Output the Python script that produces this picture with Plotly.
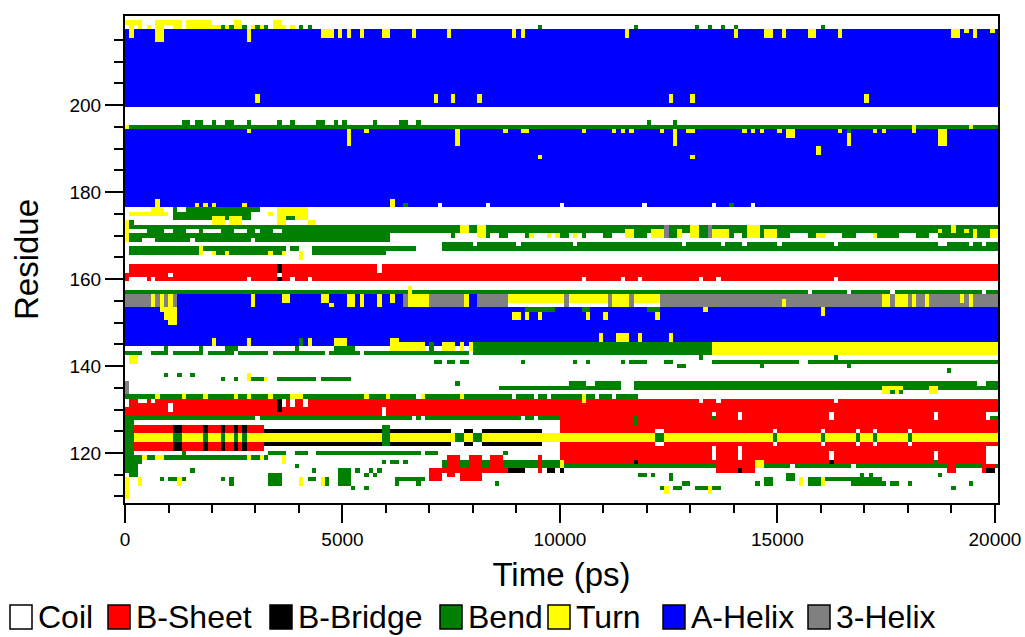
import numpy as np
import plotly.graph_objects as go

# DSSP secondary-structure classes and their colours
states = ["Coil", "B-Sheet", "B-Bridge", "Bend", "Turn", "A-Helix", "3-Helix"]
state_colors = ["#ffffff", "#ff0000", "#000000", "#008000", "#ffff00", "#0000ff", "#808080"]

# sampling grid: one frame every 100 ps, residues 109-220
t_step = 100
times = list(range(0, 20001, t_step))
residues = list(range(109, 221))
time_ticks = [0, 5000, 10000, 15000, 20000]
residue_ticks = [120, 140, 160, 180, 200]

# blocks: (state, t_from, t_to, first_residue, last_residue); later blocks overwrite earlier ones
base_blocks = [
    ("A-Helix", 0, 20100, 200, 217),
    ("A-Helix", 0, 20100, 177, 194),
    ("Bend", 100, 20100, 195, 195),
    ("Turn", 0, 100, 195, 195),
    ("A-Helix", 0, 20100, 145, 156),
    ("Bend", 0, 20100, 157, 157),
    ("B-Sheet", 0, 20100, 160, 163),
    ("B-Sheet", 0, 20100, 129, 132),
    ("Bend", 0, 11800, 133, 133),
    ("B-Sheet", 10000, 20100, 125, 128),
    ("B-Sheet", 10000, 20100, 118, 122),
    ("Turn", 200, 20100, 123, 124),
]

upper_blocks = [
    ("Turn", 0, 300, 219, 219), ("Turn", 100, 200, 216, 218), ("Turn", 300, 400, 218, 219),
    ("Turn", 500, 600, 218, 218), ("Turn", 700, 900, 215, 219), ("Turn", 900, 1100, 219, 219),
    ("Turn", 1100, 1300, 218, 219), ("Turn", 1400, 2000, 218, 219), ("Turn", 2000, 2400, 218, 218),
    ("Turn", 2500, 2700, 218, 219), ("Turn", 2800, 2900, 215, 217), ("Turn", 2900, 3000, 218, 218),
    ("Turn", 3100, 3200, 218, 218), ("Turn", 3400, 3600, 218, 219), ("Turn", 3600, 3700, 218, 218),
    ("Turn", 3800, 3900, 218, 218),
    ("Bend", 2200, 2300, 218, 218), ("Bend", 2400, 2500, 218, 218), ("Bend", 2700, 2800, 218, 218),
    ("Bend", 3000, 3100, 218, 218), ("Bend", 3200, 3300, 218, 218), ("Bend", 4000, 4100, 218, 218),
    ("Bend", 4200, 4300, 218, 218), ("Bend", 9500, 9600, 218, 218), ("Bend", 11700, 11800, 218, 218),
    ("Bend", 13100, 13200, 218, 218), ("Bend", 13400, 13500, 218, 218), ("Bend", 13700, 13800, 218, 218),
    ("Bend", 14000, 14100, 218, 218), ("Bend", 16000, 16100, 218, 218),
    ("Turn", 4500, 4800, 216, 217), ("Turn", 4900, 5000, 216, 217), ("Turn", 5100, 5200, 216, 217),
    ("Turn", 5400, 5500, 216, 217), ("Turn", 5900, 6100, 216, 217), ("Turn", 6600, 6700, 216, 217),
    ("Turn", 7400, 7500, 216, 217), ("Turn", 8900, 9000, 216, 217), ("Turn", 9100, 9200, 216, 217),
    ("Turn", 11500, 11600, 216, 217), ("Turn", 14000, 14100, 216, 217), ("Turn", 14700, 14900, 216, 217),
    ("Turn", 15100, 15200, 216, 217), ("Turn", 15700, 15900, 216, 217), ("Turn", 16400, 16500, 216, 217),
    ("Turn", 19000, 19200, 216, 217), ("Turn", 19500, 19600, 216, 217),
    ("Turn", 19300, 19400, 217, 217), ("Turn", 19900, 20000, 217, 217),
    ("Turn", 3000, 3100, 201, 202), ("Turn", 7100, 7200, 201, 202), ("Turn", 7500, 7600, 201, 202),
    ("Turn", 8100, 8200, 201, 202), ("Turn", 12500, 12600, 201, 202), ("Turn", 13000, 13100, 201, 202),
    ("Turn", 17000, 17100, 201, 202),
    ("Bend", 1300, 1500, 196, 196), ("Bend", 1600, 1800, 196, 196), ("Bend", 2000, 2100, 196, 196),
    ("Bend", 2300, 2500, 196, 196), ("Bend", 2800, 2900, 196, 196), ("Bend", 3500, 3600, 196, 196),
    ("Bend", 3800, 3900, 196, 196), ("Bend", 4400, 4600, 196, 196), ("Bend", 4800, 4900, 196, 196),
    ("Bend", 5000, 5100, 196, 196), ("Bend", 5700, 5800, 196, 196), ("Bend", 6300, 6500, 196, 196),
    ("Bend", 6700, 6800, 196, 196), ("Bend", 12000, 12100, 196, 196), ("Bend", 12600, 12700, 196, 196),
    ("Turn", 19400, 19500, 195, 195), ("Turn", 18100, 18200, 194, 195),
    ("Turn", 2800, 2900, 194, 194), ("Turn", 5100, 5200, 191, 194), ("Turn", 5500, 5600, 194, 194),
    ("Turn", 7600, 7700, 191, 194), ("Turn", 8700, 8800, 194, 194), ("Turn", 9100, 9300, 194, 194),
    ("Turn", 10500, 10600, 194, 194), ("Turn", 11200, 11300, 194, 194), ("Turn", 11400, 11500, 194, 194),
    ("Turn", 11600, 11700, 194, 194), ("Turn", 12300, 12400, 194, 194), ("Turn", 12600, 12700, 191, 194),
    ("Turn", 12900, 13100, 194, 194), ("Turn", 14200, 14300, 194, 194), ("Turn", 14400, 14500, 194, 194),
    ("Turn", 14600, 14700, 194, 194), ("Turn", 15000, 15100, 194, 194), ("Turn", 15200, 15400, 193, 194),
    ("Turn", 16400, 16500, 194, 194), ("Turn", 16600, 16700, 191, 193), ("Bend", 16600, 16700, 194, 194),
    ("Turn", 17200, 17300, 194, 194), ("Turn", 17400, 17500, 194, 194), ("Turn", 18700, 18900, 191, 194),
    ("Turn", 9500, 9600, 188, 188), ("Turn", 13000, 13100, 188, 188), ("Turn", 15900, 16000, 189, 190),
    ("Turn", 700, 800, 177, 178), ("Turn", 1600, 1700, 177, 177), ("Turn", 1800, 1900, 177, 177),
    ("Turn", 2000, 2100, 177, 177), ("Turn", 2700, 2800, 177, 177), ("Turn", 6100, 6200, 177, 178),
    ("Coil", 7200, 7300, 177, 177), ("Coil", 8300, 8400, 177, 177), ("Coil", 10000, 10100, 177, 177),
    ("Coil", 11900, 12000, 177, 177), ("Coil", 13500, 13600, 177, 177), ("Coil", 14400, 14500, 177, 177),
    ("Bend", 6400, 6500, 177, 177), ("Bend", 13900, 14000, 177, 177),
]

middle_blocks = [
    # residues 169-176, early frames
    ("Turn", 0, 100, 169, 173),
    ("Bend", 100, 4100, 169, 172),
    ("Coil", 100, 500, 171, 171), ("Coil", 900, 1100, 171, 171), ("Coil", 1400, 1700, 171, 171),
    ("Coil", 1800, 2200, 171, 171), ("Coil", 2500, 2800, 171, 171), ("Coil", 3000, 3100, 171, 171),
    ("Coil", 3400, 3600, 171, 171), ("Coil", 400, 700, 169, 169), ("Coil", 1500, 1600, 169, 169),
    ("Coil", 2900, 3000, 169, 169),
    ("Turn", 600, 900, 176, 176), ("Bend", 1100, 1200, 176, 176), ("Bend", 1400, 3100, 176, 176),
    ("Turn", 3500, 4200, 176, 176),
    ("Turn", 100, 1000, 175, 175), ("Bend", 1100, 2900, 175, 175), ("Turn", 3300, 3400, 175, 175),
    ("Turn", 3500, 4200, 175, 175),
    ("Bend", 1100, 2000, 174, 174), ("Turn", 2000, 2300, 174, 174), ("Bend", 2300, 2400, 174, 174),
    ("Turn", 2400, 2700, 174, 174), ("Bend", 2700, 2900, 174, 174), ("Turn", 3500, 3700, 174, 174),
    ("Bend", 3700, 3900, 174, 174), ("Turn", 3900, 4200, 174, 174),
    ("Turn", 2000, 2300, 173, 173), ("Turn", 2400, 2700, 173, 173), ("Turn", 3500, 3700, 173, 173),
    ("Turn", 4200, 4400, 173, 173), ("Bend", 100, 200, 173, 173),
    # residues 169-172, later frames
    ("Bend", 4100, 20100, 170, 172),
    ("Coil", 6100, 7500, 170, 170), ("Coil", 7600, 8200, 170, 170), ("Coil", 8400, 8600, 170, 170),
    ("Coil", 8800, 9200, 170, 170), ("Coil", 9400, 10000, 170, 170), ("Coil", 10200, 10500, 170, 170),
    ("Coil", 10600, 11000, 170, 170), ("Coil", 11200, 11700, 170, 170), ("Coil", 12000, 12500, 170, 170),
    ("Coil", 12800, 13000, 170, 170), ("Coil", 14000, 14200, 170, 170), ("Coil", 15300, 15700, 170, 170),
    ("Coil", 16000, 16500, 170, 170), ("Coil", 16800, 17200, 170, 170), ("Coil", 17800, 18200, 170, 170),
    ("Coil", 18500, 18700, 170, 170),
    ("Turn", 7700, 7900, 171, 172), ("Turn", 8100, 8300, 170, 172), ("Turn", 9300, 9400, 170, 170),
    ("Turn", 9700, 9800, 170, 170), ("Turn", 9900, 10000, 170, 170), ("Turn", 10300, 10400, 170, 170),
    ("Turn", 11500, 11700, 170, 171), ("Turn", 12100, 12400, 170, 171), ("3-Helix", 12400, 12500, 170, 172),
    ("Turn", 12700, 12800, 170, 171), ("Turn", 13000, 13200, 170, 172), ("3-Helix", 13400, 13500, 170, 172),
    ("Turn", 13500, 13900, 170, 171), ("Turn", 14300, 14600, 170, 172), ("Turn", 14700, 15000, 170, 171),
    ("Turn", 15900, 16100, 170, 170), ("Turn", 17200, 17300, 170, 170), ("Turn", 18700, 18800, 171, 171),
    ("Turn", 19000, 19100, 171, 172), ("Turn", 19300, 19400, 171, 171), ("Turn", 19500, 19600, 170, 171),
    ("Turn", 19900, 20100, 170, 171),
    ("Bend", 4100, 6100, 169, 169),
    # residues 166-168
    ("Bend", 100, 6700, 167, 167), ("Coil", 1700, 1800, 167, 167), ("Coil", 3700, 3800, 167, 167),
    ("Coil", 4000, 4300, 167, 167),
    ("Bend", 100, 1700, 166, 166), ("Bend", 2100, 3700, 166, 166), ("Bend", 4300, 6000, 166, 166),
    ("Turn", 1700, 1800, 166, 167), ("Turn", 2000, 2100, 166, 166), ("Turn", 2300, 2400, 166, 166),
    ("Turn", 3300, 3400, 166, 166), ("Turn", 3600, 3700, 166, 166), ("Turn", 4000, 4100, 165, 166),
    ("Bend", 7300, 20100, 167, 168),
    ("Coil", 8000, 8100, 168, 168), ("Coil", 9000, 9100, 168, 168), ("Coil", 10300, 10400, 168, 168),
    ("Coil", 12800, 12900, 168, 168), ("Coil", 13700, 13800, 168, 168), ("Coil", 14200, 14300, 168, 168),
    ("Coil", 15000, 15100, 168, 168), ("Coil", 16300, 16400, 168, 168), ("Coil", 18700, 18900, 168, 168),
    ("Coil", 19400, 19500, 168, 168), ("Coil", 19700, 19800, 168, 168),
    # sheet 160-163
    ("Coil", 0, 100, 162, 163), ("Coil", 100, 300, 160, 160), ("Coil", 300, 500, 160, 160),
    ("Coil", 600, 700, 160, 160), ("Coil", 1000, 1100, 161, 161), ("Coil", 2800, 2900, 160, 160),
    ("B-Bridge", 3500, 3600, 162, 163), ("Coil", 3500, 3600, 161, 161), ("B-Bridge", 3500, 3600, 160, 160),
    ("Coil", 3800, 3900, 160, 160), ("Coil", 4200, 4300, 160, 160), ("Coil", 5800, 5900, 162, 163),
    ("Coil", 10500, 10600, 160, 160), ("Coil", 11400, 11500, 160, 160), ("Coil", 11800, 11900, 160, 160),
    ("Coil", 13200, 13300, 160, 160), ("Coil", 13600, 13700, 160, 160), ("Coil", 16300, 16400, 160, 160),
    # bend line 157 gaps
    ("Coil", 15700, 15800, 157, 157), ("Coil", 16600, 16700, 157, 157), ("Coil", 17600, 17700, 157, 157),
    ("Coil", 19700, 19800, 157, 157), ("Turn", 6500, 6600, 157, 158),
    # residues 150-156: 3-helix / helix / turn mixture
    ("3-Helix", 0, 1200, 154, 156),
    ("Turn", 600, 700, 154, 156), ("Turn", 800, 900, 153, 156), ("Turn", 900, 1000, 151, 153),
    ("Turn", 1000, 1100, 150, 156), ("Turn", 1100, 1200, 150, 153),
    ("Turn", 2900, 3000, 154, 156), ("Turn", 3600, 3800, 155, 156), ("Turn", 4500, 4700, 155, 156),
    ("Turn", 4700, 4800, 154, 154), ("Turn", 5100, 5300, 154, 156), ("Turn", 5400, 5500, 154, 156),
    ("Turn", 5800, 5900, 154, 156), ("Turn", 6100, 6200, 155, 156),
    ("3-Helix", 6400, 6500, 154, 156), ("Turn", 6500, 7000, 154, 156), ("3-Helix", 7000, 7800, 154, 156),
    ("Turn", 7800, 7900, 154, 156), ("3-Helix", 8100, 8800, 154, 156),
    ("Turn", 8800, 10100, 155, 156), ("Coil", 8800, 10100, 154, 154), ("3-Helix", 10100, 10200, 154, 156),
    ("Turn", 10200, 11100, 155, 156), ("Coil", 10200, 11100, 154, 154), ("3-Helix", 11100, 11200, 154, 156),
    ("Turn", 11200, 11600, 154, 156), ("3-Helix", 11600, 11700, 154, 156),
    ("Turn", 11700, 12300, 155, 156), ("Coil", 11700, 12300, 154, 154),
    ("3-Helix", 12300, 20100, 154, 156),
    ("Turn", 15100, 15200, 154, 155), ("Turn", 17400, 17600, 154, 156), ("Turn", 17700, 18000, 154, 156),
    ("Turn", 18100, 18200, 154, 156), ("Turn", 18400, 18500, 154, 156), ("Turn", 19200, 19300, 155, 156),
    ("Turn", 19400, 19500, 154, 156),
    ("Bend", 9200, 9900, 153, 153), ("Bend", 10500, 10700, 153, 153), ("Bend", 12000, 12300, 153, 153),
    ("Turn", 8900, 9100, 151, 152), ("Turn", 9200, 9300, 151, 152), ("Turn", 9500, 9600, 151, 152),
    ("Turn", 10600, 10700, 151, 152), ("Turn", 11000, 11100, 151, 152), ("Turn", 12200, 12300, 151, 152),
    ("Turn", 13300, 13400, 153, 153), ("Turn", 16000, 16100, 152, 153),
    ("Turn", 10900, 11000, 146, 147), ("Turn", 11300, 11600, 146, 147), ("Turn", 11800, 11900, 146, 147),
    ("Turn", 12500, 12600, 146, 147),
]

lower_blocks = [
    # residues 141-146
    ("Turn", 2000, 2100, 145, 146), ("Turn", 2800, 2900, 145, 146), ("Turn", 4200, 4300, 145, 146),
    ("Turn", 4800, 5100, 145, 146), ("Turn", 6100, 6300, 145, 146), ("Bend", 4000, 4100, 145, 146),
    ("Coil", 0, 7900, 144, 144),
    ("Bend", 900, 1000, 144, 144), ("Bend", 1700, 1800, 144, 144), ("Bend", 2300, 2600, 144, 144),
    ("Bend", 3900, 4000, 144, 144), ("Bend", 4800, 5300, 144, 144),
    ("Bend", 0, 400, 143, 143), ("Bend", 600, 1000, 143, 143), ("Bend", 1100, 1800, 143, 143),
    ("Bend", 1900, 2500, 143, 143), ("Bend", 2600, 3300, 143, 143), ("Bend", 3400, 4600, 143, 143),
    ("Bend", 4700, 5400, 143, 143), ("Bend", 5500, 7900, 143, 143),
    ("Turn", 6100, 6900, 144, 145), ("Bend", 7000, 7100, 144, 145), ("Turn", 7300, 7600, 144, 145),
    ("Turn", 7700, 7800, 144, 145), ("Turn", 7900, 8000, 144, 145),
    ("Bend", 8000, 13500, 143, 145), ("Turn", 13500, 20100, 143, 145),
    ("Turn", 100, 300, 141, 142),
    ("Bend", 7100, 7300, 141, 141), ("Bend", 7400, 7600, 141, 141), ("Bend", 7700, 7900, 141, 141),
    ("Bend", 9100, 9200, 141, 141), ("Bend", 10300, 10400, 141, 141), ("Bend", 10600, 10700, 141, 141),
    ("Bend", 11400, 11500, 141, 141), ("Bend", 11600, 12000, 141, 141), ("Bend", 12400, 12600, 141, 141),
    ("Bend", 13500, 15500, 141, 141), ("Bend", 15700, 20100, 141, 141),
    ("Bend", 12700, 12900, 140, 140), ("Bend", 14600, 14700, 140, 140), ("Bend", 16600, 16700, 140, 140),
    ("Bend", 13200, 13300, 142, 142), ("Bend", 16300, 16400, 142, 142), ("Bend", 18900, 19000, 139, 139),
    # residues 133-138
    ("Bend", 900, 1000, 138, 138), ("Bend", 1200, 1300, 138, 138), ("Bend", 1500, 1600, 138, 138),
    ("Bend", 2200, 2300, 137, 137), ("Bend", 2500, 2600, 137, 137), ("Turn", 2800, 2900, 137, 138),
    ("Bend", 2900, 3200, 137, 137), ("Turn", 3200, 3300, 137, 137), ("Bend", 3500, 4400, 137, 137),
    ("Bend", 4500, 5200, 137, 137),
    ("Bend", 8600, 11400, 135, 135), ("Bend", 11700, 20100, 135, 136), ("Bend", 10200, 10600, 136, 136),
    ("Bend", 10800, 11400, 136, 136), ("Coil", 19600, 19800, 136, 136), ("Bend", 7600, 7700, 136, 136),
    ("Turn", 17400, 17900, 134, 135), ("Turn", 18500, 18700, 134, 135), ("Bend", 17600, 17700, 134, 134),
    ("Bend", 17800, 17900, 134, 134),
    ("3-Helix", 0, 100, 134, 136),
    ("Turn", 700, 800, 133, 133), ("Turn", 1300, 1400, 133, 133), ("Turn", 1800, 1900, 133, 133),
    ("Turn", 2500, 2600, 133, 133), ("Turn", 2800, 2900, 133, 133), ("Turn", 3300, 3400, 133, 133),
    ("Turn", 3800, 4100, 133, 133), ("Turn", 5500, 5600, 133, 133), ("Turn", 6000, 6100, 133, 133),
    ("Turn", 6800, 6900, 133, 133), ("Turn", 7700, 7800, 133, 133), ("Turn", 10500, 10600, 132, 133),
    ("Coil", 6700, 6800, 133, 133), ("Coil", 8900, 9000, 133, 133), ("Coil", 9400, 9500, 133, 133),
    ("Coil", 9700, 9800, 133, 133), ("Coil", 10800, 10900, 133, 133), ("Coil", 11200, 11300, 133, 133),
    # sheet 129-132 and the right-hand sheet block
    ("Coil", 0, 100, 131, 132), ("Coil", 300, 500, 132, 132), ("Coil", 600, 700, 132, 132),
    ("Coil", 1000, 1100, 130, 131), ("B-Bridge", 3500, 3600, 130, 132), ("Coil", 3600, 3700, 131, 132),
    ("Coil", 3800, 3900, 131, 132), ("Coil", 4100, 4200, 131, 132), ("Coil", 5900, 6000, 129, 130),
    ("Coil", 13200, 13300, 132, 132), ("Coil", 13600, 13700, 132, 132), ("Coil", 16300, 16400, 132, 132),
    ("Coil", 13500, 13600, 128, 129), ("Coil", 14100, 14200, 128, 129), ("Coil", 16200, 16300, 128, 129),
    ("Coil", 18600, 18700, 128, 129), ("Coil", 19800, 20100, 128, 129), ("Bend", 13500, 13600, 128, 128),
    ("Bend", 19900, 20100, 128, 128), ("Bend", 11700, 11800, 127, 128),
    ("Bend", 200, 3000, 128, 128), ("Bend", 3100, 6600, 128, 128), ("Bend", 6700, 6800, 128, 128),
    ("Bend", 6900, 9100, 128, 128), ("Bend", 9200, 9400, 128, 128), ("Bend", 9500, 10000, 128, 128),
    ("Bend", 0, 200, 120, 128),
    # early sheet ladder
    ("B-Sheet", 200, 3200, 125, 126), ("B-Sheet", 200, 3200, 121, 122),
    ("B-Bridge", 1100, 1300, 125, 126), ("Bend", 1100, 1300, 123, 124), ("B-Bridge", 1100, 1300, 121, 122),
    ("B-Bridge", 1800, 1900, 125, 126), ("Bend", 1800, 1900, 123, 124), ("B-Bridge", 1800, 1900, 121, 122),
    ("B-Bridge", 2200, 2300, 125, 126), ("Bend", 2200, 2300, 123, 124), ("B-Bridge", 2200, 2300, 121, 122),
    ("B-Bridge", 2500, 2600, 125, 126), ("Bend", 2500, 2600, 123, 124), ("B-Bridge", 2500, 2600, 121, 122),
    ("B-Bridge", 2700, 2800, 125, 126), ("Bend", 2700, 2800, 123, 124), ("B-Bridge", 2700, 2800, 121, 122),
    # bridged turn between 3.2 and 10 ns
    ("B-Bridge", 3200, 5900, 125, 125), ("B-Bridge", 6100, 7500, 125, 125), ("B-Bridge", 7800, 8000, 125, 125),
    ("B-Bridge", 8200, 9600, 125, 125),
    ("B-Bridge", 3200, 5900, 122, 122), ("B-Bridge", 6100, 7500, 122, 122), ("B-Bridge", 7800, 8000, 122, 122),
    ("B-Bridge", 8200, 9600, 122, 122),
    ("Bend", 5900, 6100, 122, 126), ("Bend", 7600, 7800, 123, 124), ("Bend", 8000, 8200, 123, 124),
    ("Bend", 12200, 12400, 123, 124), ("Coil", 12200, 12400, 125, 125), ("Coil", 12200, 12400, 122, 122),
    ("Bend", 14900, 15000, 123, 124), ("Coil", 14900, 15000, 125, 125), ("Coil", 14900, 15000, 122, 122),
    ("Bend", 16000, 16100, 123, 124), ("Coil", 16000, 16100, 125, 125), ("Coil", 16000, 16100, 122, 122),
    ("Bend", 16800, 16900, 123, 124), ("Coil", 16800, 16900, 125, 125), ("Coil", 16800, 16900, 122, 122),
    ("Bend", 17200, 17300, 123, 124), ("Coil", 17200, 17300, 125, 125), ("Coil", 17200, 17300, 122, 122),
    ("Bend", 18000, 18100, 123, 124), ("Coil", 18000, 18100, 125, 125), ("Coil", 18000, 18100, 122, 122),
    # right-hand lower sheet
    ("Coil", 13500, 13600, 119, 121), ("Coil", 14100, 14200, 119, 121), ("Coil", 16200, 16300, 119, 120),
    ("B-Bridge", 16200, 16300, 118, 118), ("Coil", 18600, 18700, 119, 120), ("Bend", 18600, 18700, 118, 118),
    ("Coil", 19800, 20100, 118, 121), ("B-Bridge", 11700, 11800, 118, 118),
    ("Bend", 10100, 20100, 117, 117), ("Coil", 15300, 15400, 117, 117), ("Coil", 16700, 16800, 117, 117),
    ("B-Sheet", 13600, 14500, 116, 117), ("Turn", 14500, 14700, 117, 118), ("B-Sheet", 18900, 19100, 116, 117),
    ("B-Sheet", 19700, 20000, 116, 117), ("B-Bridge", 14100, 14200, 116, 116), ("B-Bridge", 19800, 20000, 116, 116),
    ("Turn", 10000, 10100, 117, 118), ("B-Bridge", 10000, 10100, 116, 116),
    # residues 118-120, early frames
    ("Bend", 1300, 1400, 120, 120), ("Bend", 3300, 3700, 120, 120), ("Bend", 3900, 4200, 120, 120),
    ("Bend", 4400, 6800, 120, 120), ("Bend", 6900, 7200, 120, 120), ("Bend", 8700, 8800, 120, 120),
    ("Bend", 0, 400, 118, 119), ("Bend", 400, 3300, 119, 119), ("Turn", 400, 500, 119, 119),
    ("Turn", 700, 900, 119, 119), ("Turn", 2800, 2900, 119, 119), ("Turn", 3100, 3200, 119, 119),
    ("Turn", 3600, 3700, 118, 119), ("Bend", 0, 300, 116, 117), ("Bend", 100, 300, 115, 115),
    ("Bend", 5900, 6000, 118, 118), ("Bend", 6100, 6300, 118, 118), ("Bend", 6400, 6500, 118, 118),
    # late-forming sheet near 7-10 ns
    ("B-Sheet", 7400, 7700, 117, 119), ("B-Sheet", 7900, 8200, 117, 119), ("B-Sheet", 8400, 8700, 117, 119),
    ("Bend", 7300, 7400, 117, 118), ("Bend", 7700, 7900, 117, 118), ("Bend", 8200, 8400, 117, 118),
    ("B-Sheet", 7000, 8800, 116, 116), ("B-Sheet", 7000, 7300, 114, 115), ("B-Sheet", 7400, 7600, 115, 115),
    ("B-Sheet", 7700, 8200, 114, 115),
    ("Bend", 8700, 10000, 117, 118), ("B-Bridge", 8800, 9200, 116, 116), ("B-Bridge", 9700, 9900, 116, 116),
    ("B-Sheet", 9500, 9600, 116, 119),
    # scattered bends and turns, residues 110-117
    ("Bend", 1500, 1600, 116, 116), ("Bend", 3900, 4000, 117, 117), ("Bend", 4300, 4400, 116, 116),
    ("Turn", 0, 100, 110, 114), ("Turn", 300, 400, 113, 114),
    ("Bend", 800, 900, 114, 114), ("Bend", 1000, 1200, 114, 114), ("Turn", 1200, 1300, 113, 114),
    ("Bend", 1300, 1400, 114, 114), ("Bend", 2200, 2300, 114, 114), ("Bend", 2400, 2500, 113, 114),
    ("Bend", 3300, 3600, 113, 115), ("Turn", 4000, 4100, 113, 114), ("Bend", 4200, 4400, 114, 114),
    ("Turn", 4500, 4600, 113, 114), ("Bend", 4600, 4700, 113, 114), ("Bend", 4900, 5200, 113, 116),
    ("Bend", 5300, 5400, 116, 116), ("Bend", 5500, 5600, 115, 115), ("Bend", 5600, 5700, 116, 116),
    ("Bend", 5700, 5800, 115, 115), ("Bend", 5800, 5900, 116, 116), ("Bend", 5200, 5300, 112, 112),
    ("Bend", 5500, 5600, 112, 112), ("Bend", 6200, 6900, 114, 114), ("Bend", 6200, 6300, 113, 113),
    ("Bend", 6700, 6800, 113, 113), ("Bend", 8500, 8600, 113, 113),
    ("Bend", 11800, 12000, 115, 115), ("Bend", 12100, 12200, 115, 115), ("Bend", 12500, 12600, 114, 115),
    ("Bend", 12800, 13000, 113, 113), ("Bend", 14500, 14600, 113, 113), ("Bend", 14700, 14900, 113, 114),
    ("Bend", 15200, 15400, 114, 115), ("Turn", 15500, 15600, 113, 114), ("Bend", 15700, 16000, 113, 114),
    ("Turn", 16000, 16100, 113, 114), ("Bend", 16100, 16700, 114, 114), ("Bend", 16700, 17400, 113, 114),
    ("Bend", 16900, 17000, 115, 115), ("Bend", 17100, 17200, 115, 115), ("Bend", 17400, 17500, 113, 113),
    ("Bend", 17600, 17800, 113, 113), ("Bend", 18000, 18100, 113, 113), ("Bend", 18700, 18800, 115, 115),
    ("Bend", 19000, 19100, 112, 112), ("Bend", 19400, 19500, 113, 113),
    ("Bend", 12300, 12400, 112, 112), ("Turn", 12400, 12500, 111, 112), ("Bend", 12600, 12800, 112, 112),
    ("Bend", 13100, 13400, 112, 112), ("Turn", 13400, 13500, 111, 112), ("Bend", 13500, 13700, 112, 112),
]

# build the residue x time state matrix
code = {s: i for i, s in enumerate(states)}
t_arr = np.array(times)
r_arr = np.array(residues)
z = np.zeros((len(residues), len(times)), dtype=int)
for blocks in (base_blocks, upper_blocks, middle_blocks, lower_blocks):
    for state, t0, t1, r0, r1 in blocks:
        cols = (t_arr >= t0) & (t_arr < t1)
        rows = (r_arr >= r0) & (r_arr <= r1)
        z[np.ix_(rows, cols)] = code[state]

n = len(states)
colorscale = []
for i, c in enumerate(state_colors):
    colorscale += [[i / n, c], [(i + 1) / n, c]]

fig = go.Figure(go.Heatmap(
    z=z, x=t_arr + t_step / 2, y=r_arr,
    colorscale=colorscale, zmin=-0.5, zmax=n - 0.5,
    showscale=False, hoverinfo="skip",
))

FONT = "Liberation Sans, Arial, Helvetica, sans-serif"
PL, PR, PT, PB = 125, 998, 16, 503  # plot-area edges in page pixels

fig.update_layout(
    width=1025, height=637,
    margin=dict(l=PL, r=1025 - PR, t=PT, b=637 - PB, autoexpand=False),
    paper_bgcolor="white", plot_bgcolor="white",
    font=dict(family=FONT, color="black"),
    showlegend=False,
)
fig.update_xaxes(
    range=[0, 20070], tickvals=time_ticks, ticktext=[str(v) for v in time_ticks],
    ticks="outside", ticklen=18, tickwidth=2, tickcolor="black",
    minor=dict(dtick=1000, ticks="outside", ticklen=8, tickwidth=2, tickcolor="black"),
    showline=True, linewidth=2, linecolor="black", mirror=True, automargin=False,
    showgrid=False, zeroline=False, tickfont=dict(size=19),
    title=dict(text="Time (ps)", font=dict(size=33), standoff=14),
)
fig.update_yaxes(
    range=[108.5, 220.5], tickvals=residue_ticks, ticktext=[str(v) for v in residue_ticks],
    ticks="outside", ticklen=18, tickwidth=2, tickcolor="black",
    minor=dict(tickvals=[v for v in range(110, 220, 5) if v % 20], ticks="outside",
               ticklen=9, tickwidth=2, tickcolor="black"),
    showline=True, linewidth=2, linecolor="black", mirror=True, automargin=False,
    showgrid=False, zeroline=False, tickfont=dict(size=19),
    title=dict(text="Residue", font=dict(size=33), standoff=21),
)

# legend row drawn below the axes
def px(x):
    return (x - PL) / (PR - PL)

def py(y):
    return (PB - y) / (PB - PT)

legend_box_left = [10, 108, 270, 440, 548, 663, 808]
legend_mid_y = 617
for s, c, x0 in zip(states, state_colors, legend_box_left):
    fig.add_shape(type="rect", xref="paper", yref="paper",
                  x0=px(x0), x1=px(x0 + 22), y0=py(legend_mid_y + 12), y1=py(legend_mid_y - 12),
                  fillcolor=c, line=dict(color="black", width=1.5))
    fig.add_annotation(xref="paper", yref="paper", x=px(x0 + 27), y=py(legend_mid_y),
                       text=s, showarrow=False, xanchor="left", yanchor="middle",
                       borderpad=0, font=dict(size=32, family=FONT))

fig.write_html("out.html")
